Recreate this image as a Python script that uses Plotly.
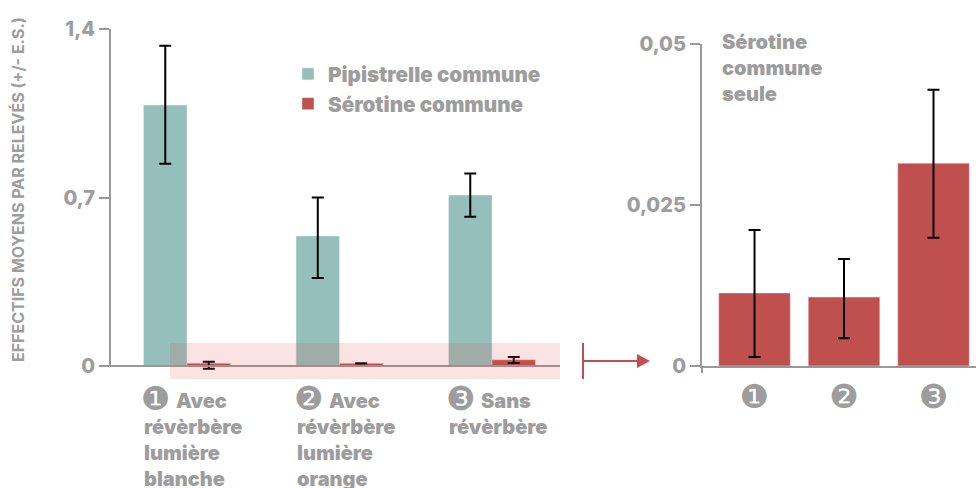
import plotly.graph_objects as go

# Constants
W, H = 976, 488
TEAL = "#95bfba"
RED = "#c0504d"
GREY = "#9d9d9d"
AXIS = "#999999"
FONT_FAMILY = "Inter"
NBSP = "\u00a0"

CATEGORIES = ["1", "2", "3"]
CATEGORY_LABELS = [
    NBSP * 8 + "Avec<br>révèrbère<br>lumière<br>blanche",
    NBSP * 8 + "Avec<br>révèrbère<br>lumière<br>orange",
    NBSP * 8 + "Sans<br>révèrbère",
]
CIRCLED = ["❶", "❷", "❸"]

# left panel
PIPISTRELLE = [1.084, 0.54, 0.71]
PIPISTRELLE_UP = [0.246, 0.16, 0.09]
PIPISTRELLE_DOWN = [0.244, 0.174, 0.09]
SEROTINE = [0.012, 0.011, 0.026]
SEROTINE_UP = [0.006, 0.0, 0.011]
SEROTINE_DOWN = [0.023, 0.001, 0.013]

# right panel
SEROTINE_SEULE = [0.01134, 0.0107, 0.0315]
SEULE_UP = [0.00976, 0.0059, 0.0114]
SEULE_DOWN = [0.00994, 0.0064, 0.0116]


def px_x(x):
    return x / W


def px_y(y):
    return 1 - y / H


def line_shape(x0, y0, x1, y1, color, width=2):
    return dict(
        type="line", xref="paper", yref="paper",
        x0=px_x(x0), y0=px_y(y0), x1=px_x(x1), y1=px_y(y1),
        line=dict(color=color, width=width),
    )


def error_bars(up, down):
    return dict(
        type="data", symmetric=False, array=up, arrayminus=down,
        color="black", thickness=2, width=6,
    )


fig = go.Figure()
fig.add_bar(
    x=CATEGORIES, y=PIPISTRELLE, name="Pipistrelle commune",
    marker_color=TEAL, error_y=error_bars(PIPISTRELLE_UP, PIPISTRELLE_DOWN),
)
fig.add_bar(
    x=CATEGORIES, y=SEROTINE, name="Sérotine commune",
    marker_color=RED, error_y=error_bars(SEROTINE_UP, SEROTINE_DOWN),
)
fig.add_bar(
    x=[c + " " for c in CATEGORIES], y=SEROTINE_SEULE, xaxis="x2", yaxis="y2",
    marker_color=RED, error_y=error_bars(SEULE_UP, SEULE_DOWN),
    width=0.8, showlegend=False, offsetgroup="seule",
)

tick_font = dict(family=FONT_FAMILY, size=20, color=GREY, weight=800)
text_font = dict(family=FONT_FAMILY, size=20, color=GREY, weight=900)
circle_font = dict(family="DejaVu Sans", size=33, color=GREY)

annotations = []
for i, label in enumerate(CATEGORY_LABELS):
    annotations.append(dict(
        text=label, x=i, xref="x", xshift=-45, xanchor="left",
        y=px_y(387), yref="paper", yanchor="top", align="left",
        showarrow=False, font=text_font,
    ))
    annotations.append(dict(
        text=CIRCLED[i], x=i, xref="x", xshift=-48, xanchor="left",
        y=px_y(398), yref="paper", yanchor="middle",
        showarrow=False, font=circle_font,
    ))
annotations += [
    dict(
        text="EFFECTIFS MOYENS PAR RELEVÉS (+/- E.S.)",
        x=px_x(18), y=px_y(190), xref="paper", yref="paper", textangle=-90,
        xanchor="center", yanchor="middle",
        showarrow=False, font=dict(family=FONT_FAMILY, size=16, color=GREY, weight=700),
    ),
    dict(
        text="Sérotine<br>commune<br>seule",
        x=px_x(720), y=px_y(28), xref="paper", yref="paper",
        xanchor="left", yanchor="top", align="left",
        showarrow=False, font=text_font,
    ),
]

shapes = [
    # left value axis stops at the baseline, the plot area itself runs lower
    line_shape(110, 29, 110, 366, AXIS),
    # highlight band over the small values
    dict(
        type="rect", xref="paper", yref="paper", layer="above",
        x0=px_x(170), x1=px_x(560), y0=px_y(379), y1=px_y(343),
        fillcolor="rgba(228,68,68,0.15)", line_width=0,
    ),
    # arrow to the right panel
    line_shape(583, 343, 583, 379, RED),
    line_shape(583, 361, 638, 361, RED),
    dict(
        type="path", xref="paper", yref="paper",
        path=f"M{px_x(637)},{px_y(354)} L{px_x(650)},{px_y(361)} L{px_x(637)},{px_y(368)} Z",
        fillcolor=RED, line_width=0,
    ),
    # axis stub under the right baseline
    line_shape(702, 366, 702, 373, AXIS),
]

axis_style = dict(
    showgrid=False, zeroline=False, showline=True, linecolor=AXIS, linewidth=2,
)

fig.update_layout(
    width=W, height=H,
    margin=dict(l=0, r=0, t=0, b=0, autoexpand=False),
    paper_bgcolor="white", plot_bgcolor="white",
    barmode="group", bargap=0.43, bargroupgap=0,
    font=dict(family=FONT_FAMILY, color=GREY),
    xaxis=dict(
        domain=[px_x(110), px_x(560)], range=[-0.505, 2.446],
        showticklabels=False, ticks="", anchor="free", position=px_y(366), **axis_style,
    ),
    yaxis=dict(
        domain=[px_y(373), px_y(29)], range=[-0.029, 1.4],
        tickvals=[0, 0.7, 1.4], ticktext=["0", "0,7", "1,4"],
        ticks="outside", ticklen=10, tickwidth=2, tickcolor=AXIS,
        tickfont=tick_font, anchor="x",
        showgrid=False, zeroline=False, showline=False,
    ),
    xaxis2=dict(
        domain=[px_x(702), 1], range=[-0.587, 2.475],
        tickvals=[c + " " for c in CATEGORIES], ticktext=CIRCLED,
        ticks="", tickfont=circle_font,
        anchor="y2", **axis_style,
    ),
    yaxis2=dict(
        domain=[px_y(366), px_y(44)], range=[0, 0.05],
        tickvals=[0, 0.025, 0.05], ticktext=["0", "0,025", "0,05"],
        ticks="outside", ticklen=10, tickwidth=2, tickcolor=AXIS,
        tickfont=tick_font, anchor="x2", **axis_style,
    ),
    legend=dict(
        x=px_x(288), y=px_y(54), xanchor="left", yanchor="top",
        font=dict(family=FONT_FAMILY, size=20.6, color=GREY, weight=900),
        bgcolor="rgba(0,0,0,0)", traceorder="normal",
    ),
    annotations=annotations,
    shapes=shapes,
)

fig.write_html(
    "out.html",
    config=dict(displayModeBar=False),
    post_script="document.body.style.margin='0';",
)
